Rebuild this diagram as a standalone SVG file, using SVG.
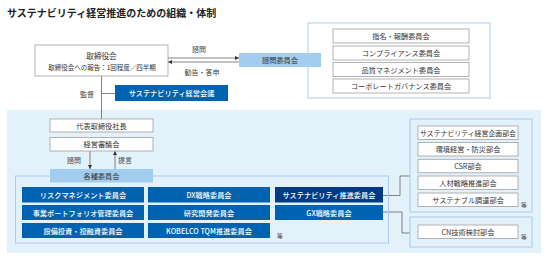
<svg xmlns="http://www.w3.org/2000/svg" width="547" height="259" viewBox="0 0 547 259">
<defs>
<style>
text{font-family:"Noto Sans CJK JP","Liberation Sans",sans-serif;fill:#333;}
.t{font-size:7.2px;text-anchor:middle;dominant-baseline:central;}
.w{fill:#fff;font-weight:500;}
.lbl{font-size:7px;text-anchor:middle;dominant-baseline:central;fill:#444;}
.box{fill:#fff;stroke:#a0a0a0;stroke-width:0.8;}
.blue{fill:#0063b1;}
.navy{fill:#003b83;}
.lb{fill:#a3cdee;}
.grp{fill:none;stroke:#a9cceb;stroke-width:1;}
.ln{fill:none;stroke:#666;stroke-width:0.8;}
.etc{font-size:5.8px;text-anchor:middle;dominant-baseline:central;fill:#444;}
</style>
<marker id="ah" viewBox="0 0 6 6" refX="6" refY="3" markerWidth="4" markerHeight="4" markerUnits="userSpaceOnUse" orient="auto">
<path d="M0,0 L6,3 L0,6 Z" fill="#333"/>
</marker>
</defs>

<text x="7" y="16.5" style="font-size:10px;font-weight:bold;fill:#222;">サステナビリティ経営推進のための組織・体制</text>

<rect x="7" y="110" width="534" height="143" fill="#e3f1fb"/>

<g id="connectors">
<line class="ln" x1="168" y1="58" x2="239" y2="58" marker-end="url(#ah)"/>
<line class="ln" x1="239" y1="62" x2="168" y2="62" marker-end="url(#ah)"/>
<line class="ln" x1="101.5" y1="76" x2="101.5" y2="119"/>
<line class="ln" x1="101.5" y1="93.5" x2="115" y2="93.5"/>
<line class="ln" x1="90" y1="151" x2="90" y2="169" marker-end="url(#ah)"/>
<line class="ln" x1="115" y1="169" x2="115" y2="151" marker-end="url(#ah)"/>
<polyline class="ln" points="383,195.5 400,195.5 400,176 410,176"/>
<polyline class="ln" points="383,212 402,212 402,233 410,233"/>
<text class="lbl" x="199" y="49">諮問</text>
<text class="lbl" x="202" y="72">勧告・答申</text>
<text class="lbl" x="87" y="94">監督</text>
<text class="lbl" x="74" y="160">諮問</text>
<text class="lbl" x="125" y="160">提言</text>
</g>

<g id="board">
<rect class="box" x="35" y="45" width="133" height="31"/>
<text class="t" x="101.5" y="55" style="font-size:7.6px">取締役会</text>
<text class="t" x="102" y="67" style="font-size:6.5px">取締役会への報告：1回程度／四半期</text>
</g>

<g id="advisory-group">
<rect x="308" y="23" width="182" height="75" fill="#fff" stroke="#a9cceb" stroke-width="1"/>
<rect class="box" x="333" y="29" width="136" height="14"/>
<text class="t" x="401" y="36">指名・報酬委員会</text>
<rect class="box" x="333" y="46" width="136" height="14"/>
<text class="t" x="401" y="53">コンプライアンス委員会</text>
<rect class="box" x="333" y="62.5" width="136" height="14"/>
<text class="t" x="401" y="69.5">品質マネジメント委員会</text>
<rect class="box" x="333" y="79" width="136" height="14"/>
<text class="t" x="401" y="86">コーポレートガバナンス委員会</text>
</g>

<g id="advisory">
<rect class="lb" x="239" y="53" width="82" height="14"/>
<text class="t" x="280" y="60">諮問委員会</text>
</g>

<g id="sustainability-council">
<rect class="blue" x="115" y="85" width="113" height="16"/>
<text class="t w" x="171.5" y="93">サステナビリティ経営会議</text>
</g>

<g id="president">
<rect class="box" x="50" y="119" width="103" height="13"/>
<text class="t" x="101.5" y="125.5">代表取締役社長</text>
</g>

<g id="management-council">
<rect class="box" x="50" y="137.5" width="103" height="13.5"/>
<text class="t" x="101.5" y="144.2">経営審議会</text>
</g>

<g id="committees">
<rect class="grp" x="15.5" y="176" width="373" height="67"/>
<rect class="lb" x="50" y="169" width="103" height="13.5"/>
<text class="t" x="101.5" y="175.7">各種委員会</text>
</g>

<g id="c-risk"><rect class="blue" x="22" y="187" width="122" height="15.5"/><text class="t w" x="83" y="194.8">リスクマネジメント委員会</text></g>
<g id="c-dx"><rect class="blue" x="148" y="187" width="122" height="15.5"/><text class="t w" x="209" y="194.8">DX戦略委員会</text></g>
<g id="c-sus"><rect class="navy" x="275" y="187" width="108" height="15.5"/><text class="t w" x="329" y="194.8">サステナビリティ推進委員会</text></g>
<g id="c-portfolio"><rect class="blue" x="22" y="205" width="122" height="15"/><text class="t w" x="83" y="212.5">事業ポートフォリオ管理委員会</text></g>
<g id="c-rd"><rect class="blue" x="148" y="205" width="122" height="15"/><text class="t w" x="209" y="212.5">研究開発委員会</text></g>
<g id="c-gx"><rect class="blue" x="275" y="205" width="108" height="15"/><text class="t w" x="329" y="212.5">GX戦略委員会</text></g>
<g id="c-capex"><rect class="blue" x="22" y="223" width="122" height="15"/><text class="t w" x="83" y="230.5">設備投資・投融資委員会</text></g>
<g id="c-tqm"><rect class="blue" x="148" y="223" width="122" height="15"/><text class="t w" x="209" y="230.5">KOBELCO TQM推進委員会</text></g>
<text class="etc" x="280" y="235">等</text>

<g id="subcommittees">
<rect class="grp" x="410" y="119" width="122" height="93"/>
<rect class="box" x="418" y="126" width="100" height="13.5"/>
<text class="t" x="468" y="132.8" style="font-size:6.9px">サステナビリティ経営企画部会</text>
<rect class="box" x="418" y="142.5" width="100" height="13.5"/>
<text class="t" x="468" y="149.3">環境経営・防災部会</text>
<rect class="box" x="418" y="159.3" width="100" height="13.5"/>
<text class="t" x="468" y="166">CSR部会</text>
<rect class="box" x="418" y="176" width="100" height="13.5"/>
<text class="t" x="468" y="182.8">人材戦略推進部会</text>
<rect class="box" x="418" y="193" width="100" height="13.5"/>
<text class="t" x="468" y="199.8">サステナブル調達部会</text>
<text class="etc" x="524" y="204.5">等</text>
</g>

<g id="cn-group">
<rect class="grp" x="410" y="217" width="122" height="30"/>
<rect class="box" x="418" y="225" width="100" height="13.5"/>
<text class="t" x="468" y="231.8">CN技術検討部会</text>
<text class="etc" x="524" y="236">等</text>
</g>
</svg>
